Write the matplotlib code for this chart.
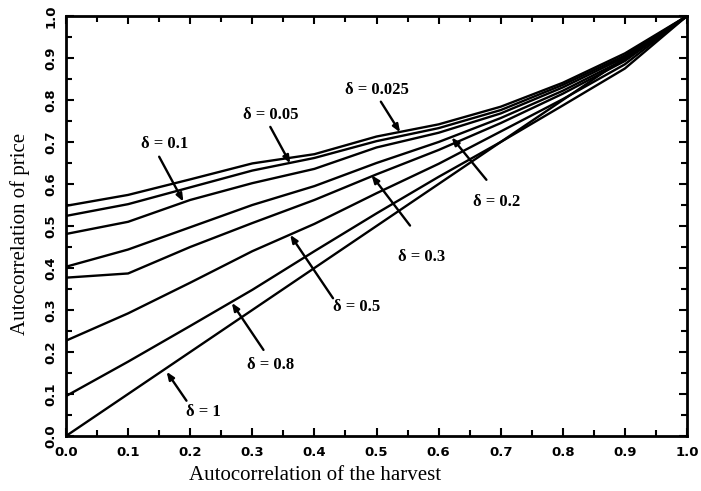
import numpy as np
import matplotlib
matplotlib.use("Agg")
import matplotlib.pyplot as plt
from matplotlib.ticker import MultipleLocator, FormatStrFormatter

# harvest autocorrelation (x) and price autocorrelation for each delta
harvest = [0.0, 0.1, 0.2, 0.3, 0.4, 0.5, 0.6, 0.7, 0.8, 0.9, 1.0]
price_d0025 = [0.548, 0.574, 0.611, 0.649, 0.671, 0.713, 0.742, 0.784, 0.841, 0.911, 1.0]
price_d005 = [0.524, 0.552, 0.592, 0.632, 0.662, 0.702, 0.733, 0.776, 0.836, 0.906, 1.0]
price_d01 = [0.481, 0.510, 0.562, 0.602, 0.636, 0.687, 0.722, 0.768, 0.830, 0.902, 1.0]
price_d02 = [0.403, 0.444, 0.497, 0.550, 0.595, 0.650, 0.700, 0.757, 0.822, 0.897, 1.0]
price_d03 = [0.377, 0.387, 0.450, 0.507, 0.562, 0.623, 0.681, 0.745, 0.815, 0.893, 1.0]
price_d05 = [0.227, 0.292, 0.365, 0.440, 0.505, 0.578, 0.648, 0.725, 0.802, 0.885, 1.0]
price_d08 = [0.095, 0.177, 0.262, 0.348, 0.440, 0.530, 0.617, 0.700, 0.787, 0.875, 1.0]
price_d1 = [0.0, 0.1, 0.2, 0.3, 0.4, 0.5, 0.6, 0.7, 0.8, 0.9, 1.0]

series = [price_d0025, price_d005, price_d01, price_d02,
          price_d03, price_d05, price_d08, price_d1]

# label text, text position, arrow tail and tip (data coords)
labels = ["δ = 0.1", "δ = 0.05", "δ = 0.025", "δ = 0.2",
          "δ = 0.3", "δ = 0.5", "δ = 0.8", "δ = 1"]
label_xy = [(0.159, 0.695), (0.329, 0.764), (0.500, 0.825), (0.694, 0.558),
            (0.573, 0.427), (0.468, 0.308), (0.329, 0.169), (0.221, 0.056)]
tail_xy = [(0.150, 0.665), (0.329, 0.736), (0.507, 0.796), (0.677, 0.610),
           (0.554, 0.501), (0.430, 0.328), (0.318, 0.205), (0.194, 0.084)]
tip_xy = [(0.189, 0.558), (0.361, 0.649), (0.538, 0.723), (0.621, 0.711),
          (0.492, 0.621), (0.361, 0.479), (0.267, 0.317), (0.162, 0.153)]

serif = "Liberation Serif"

fig = plt.figure(figsize=(7.01, 4.91), dpi=100)
ax = fig.add_axes([66 / 701, 55 / 491, 621 / 701, 420 / 491])

for s in series:
    ax.plot(harvest, s, color="black", lw=1.7, solid_joinstyle="round")

for txt, lxy, t0, t1 in zip(labels, label_xy, tail_xy, tip_xy):
    ax.text(lxy[0], lxy[1], txt, ha="center", va="center",
            fontsize=12, fontweight="bold", family=serif)
    ax.annotate("", xy=t1, xytext=t0,
                arrowprops=dict(arrowstyle="-|>,head_length=0.45,head_width=0.18",
                                color="black", lw=1.7, shrinkA=0, shrinkB=0))

ax.set_xlim(0, 1)
ax.set_ylim(0, 1)
ax.xaxis.set_major_locator(MultipleLocator(0.1))
ax.xaxis.set_minor_locator(MultipleLocator(0.05))
ax.yaxis.set_major_locator(MultipleLocator(0.1))
ax.yaxis.set_minor_locator(MultipleLocator(0.05))
ax.xaxis.set_major_formatter(FormatStrFormatter("%.1f"))
ax.yaxis.set_major_formatter(FormatStrFormatter("%.1f"))
ax.tick_params(which="both", direction="in", top=True, right=True, width=1.5)
ax.tick_params(which="major", length=6)
ax.tick_params(which="minor", length=4)
ax.tick_params(axis="x", pad=7)
ax.tick_params(axis="y", pad=6)
for lab in ax.get_xticklabels():
    lab.set_fontsize(9.5)
    lab.set_fontweight("bold")
for lab in ax.get_yticklabels():
    lab.set_fontsize(9.5)
    lab.set_fontweight("bold")
    lab.set_rotation(90)
    lab.set_va("center")
for sp in ax.spines.values():
    sp.set_linewidth(2)

fig.text(315 / 701, 1 - 476 / 491, "Autocorrelation of the harvest",
         ha="center", va="center", fontsize=15, family=serif)
fig.text(20 / 701, 1 - 234 / 491, "Autocorrelation of price",
         ha="center", va="center", fontsize=15, family=serif, rotation=90)

fig.savefig("out.png", dpi=100)
